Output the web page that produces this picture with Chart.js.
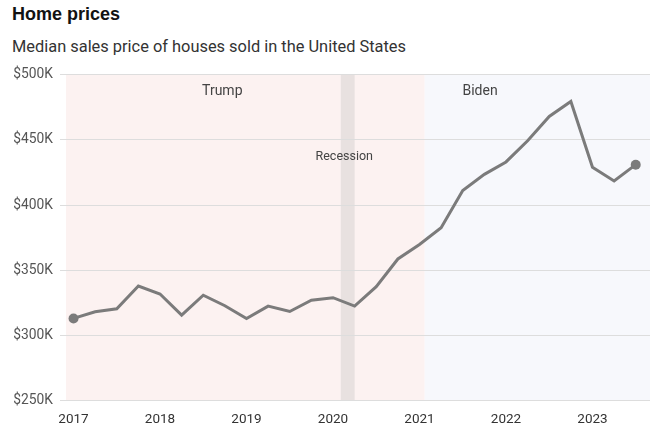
<!DOCTYPE html>
<html>
<head>
<meta charset="utf-8">
<script src="https://cdn.jsdelivr.net/npm/chart.js@4"></script>
<style>
  html, body { margin: 0; padding: 0; background: #fff; }
  #wrap { position: relative; width: 662px; height: 427px; }
  #title { position: absolute; left: 12px; top: 4px; font: bold 18px "Liberation Sans", Arial, sans-serif; color: #121212; }
  #subtitle { position: absolute; left: 12px; top: 37px; font: 16.4px Roboto, "Liberation Sans", sans-serif; color: #333; }
  canvas { position: absolute; left: 0; top: 0; }
</style>
</head>
<body>
<div id="wrap">
  <div id="title">Home prices</div>
  <div id="subtitle">Median sales price of houses sold in the United States</div>
  <canvas id="c" width="662" height="427"></canvas>
</div>
<script>
// Quarterly observations
const quarters = ['2017-Q1','2017-Q2','2017-Q3','2017-Q4',
                  '2018-Q1','2018-Q2','2018-Q3','2018-Q4',
                  '2019-Q1','2019-Q2','2019-Q3','2019-Q4',
                  '2020-Q1','2020-Q2','2020-Q3','2020-Q4',
                  '2021-Q1','2021-Q2','2021-Q3','2021-Q4',
                  '2022-Q1','2022-Q2','2022-Q3','2022-Q4',
                  '2023-Q1','2023-Q2','2023-Q3'];
// Median sales price (USD)
const prices = [313100, 318200, 320500, 337900,
                331800, 315600, 330900, 322800,
                313000, 322500, 318400, 327100,
                329000, 322600, 337500, 358700,
                369800, 382600, 411200, 423600,
                433100, 449300, 468000, 479500,
                429000, 418500, 431000];
const yearTicks = [2017, 2018, 2019, 2020, 2021, 2022, 2023];
const yTicks = [250000, 300000, 350000, 400000, 450000, 500000];
// Shaded periods (decimal years)
const periodNames = ['Trump', 'Biden'];
const periodStarts = [2016.91, 2021.06];
const periodEnds = [2021.06, 2023.67];
const periodLabelAt = [2018.72, 2021.70];
const recessionStart = 2020.09;
const recessionEnd = 2020.25;
const recessionLabelAt = 2020.13;

const xMin = 2016.913, xMax = 2023.665;

function quarterToYear(q) {
  const [y, qq] = q.split('-Q');
  return Number(y) + (Number(qq) - 1) / 4;
}
const points = quarters.map((q, i) => ({ x: quarterToYear(q), y: prices[i] }));

const bgPlugin = {
  id: 'bg',
  beforeDraw(chart) {
    const { ctx, chartArea: a, scales: { x } } = chart;
    const fills = ['#fcf2f1', '#f7f8fc'];
    ctx.save();
    periodNames.forEach((n, i) => {
      const x0 = Math.max(a.left, x.getPixelForValue(periodStarts[i]));
      const x1 = Math.min(a.right, x.getPixelForValue(periodEnds[i]));
      ctx.fillStyle = fills[i];
      ctx.fillRect(x0, a.top, x1 - x0, a.bottom - a.top);
    });
    const r0 = x.getPixelForValue(recessionStart), r1 = x.getPixelForValue(recessionEnd);
    ctx.fillStyle = '#e8e1e0';
    ctx.fillRect(r0, a.top, r1 - r0, a.bottom - a.top);
    ctx.restore();
  },
  beforeDatasetsDraw(chart) {
    const { ctx, chartArea: a, scales: { x } } = chart;
    ctx.save();
    ctx.fillStyle = '#444';
    ctx.textAlign = 'center';
    ctx.textBaseline = 'middle';
    ctx.font = '14px Roboto, "Liberation Sans", sans-serif';
    periodNames.forEach((n, i) => {
      ctx.fillText(n, x.getPixelForValue(periodLabelAt[i]), a.top + 17);
    });
    ctx.font = '12.5px Roboto, "Liberation Sans", sans-serif';
    ctx.fillText('Recession', x.getPixelForValue(recessionLabelAt), a.top + 82);
    ctx.restore();
  }
};

new Chart(document.getElementById('c'), {
  type: 'line',
  data: {
    datasets: [{
      data: points,
      borderColor: '#7b7b7b',
      backgroundColor: '#7b7b7b',
      borderWidth: 3,
      tension: 0,
      pointRadius: (c) => (c.dataIndex === 0 || c.dataIndex === prices.length - 1) ? 5 : 0,
      pointHoverRadius: 0,
      pointBorderWidth: 0
    }]
  },
  options: {
    responsive: false,
    animation: false,
    events: [],
    layout: { padding: { top: 74.7, right: 12, left: 0, bottom: 0 } },
    plugins: { legend: { display: false }, tooltip: { enabled: false } },
    scales: {
      x: {
        type: 'linear',
        min: xMin, max: xMax,
        afterBuildTicks: (s) => { s.ticks = yearTicks.map(v => ({ value: v })); },
        afterFit: (s) => { s.height = 26.3; },
        grid: { display: false },
        border: { display: false },
        ticks: {
          padding: 3,
          color: '#333',
          font: { family: 'Roboto', size: 13.5 },
          maxRotation: 0,
          callback: (v) => String(v)
        }
      },
      y: {
        min: 250000, max: 500000,
        afterBuildTicks: (s) => { s.ticks = yTicks.map(v => ({ value: v })); },
        afterFit: (s) => { s.width = 66; },
        border: { display: false },
        grid: { color: '#dddddd', lineWidth: 1, tickLength: 6, drawTicks: true },
        ticks: {
          padding: 7,
          color: '#555',
          font: { family: 'Roboto', size: 13.8 },
          callback: (v) => '$' + (v / 1000) + 'K'
        }
      }
    }
  },
  plugins: [bgPlugin]
});
</script>
</body>
</html>
